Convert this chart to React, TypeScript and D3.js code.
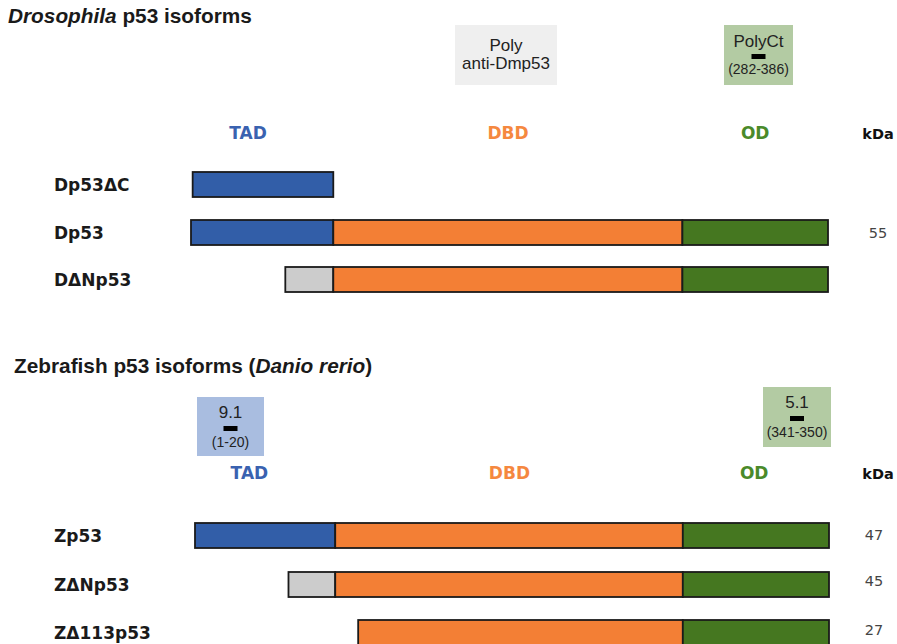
import React from "react";
import * as d3 from "d3";

// ---------- data ----------
const domainNames = ["TAD", "DBD", "OD"];
const domainLabelColors = ["#3a62b0", "#f5883f", "#4a8a2a"];
const segFill: Record<string, string> = {
  TAD: "#325ea8",
  DBD: "#f37f35",
  OD: "#457720",
  N: "#cccccc",
};

// Drosophila (residue-like units, full length 385)
const dmelLength = 385;
const dmelNames = ["Dp53ΔC", "Dp53", "DΔNp53"];
const dmelKda = ["", "55", ""];
const dmelSegs: [string, number, number][][] = [
  [["TAD", 1, 86]],
  [["TAD", 0, 86], ["DBD", 86, 297], ["OD", 297, 385]],
  [["N", 57, 86], ["DBD", 86, 297], ["OD", 297, 385]],
];
const dmelDomainCenters = [34.5, 191.6, 341];

// Zebrafish (full length 373)
const zfLength = 373;
const zfNames = ["Zp53", "ZΔNp53", "ZΔ113p53"];
const zfKda = ["47", "45", "27"];
const zfSegs: [string, number, number][][] = [
  [["TAD", 0, 82.5], ["DBD", 82.5, 287], ["OD", 287, 373]],
  [["N", 55, 82.5], ["DBD", 82.5, 287], ["OD", 287, 373]],
  [["DBD", 96, 287], ["OD", 287, 373]],
];
const zfDomainCenters = [32, 185, 329];

const SANS = "'Liberation Sans', Arial, sans-serif";
const DJ = "'DejaVu Sans', Verdana, sans-serif";

type PanelProps = {
  names: string[];
  kda: string[];
  segs: [string, number, number][][];
  length: number;
  x0: number;
  x1: number;
  rowTop: number[];
  kdaY: number[];
  kdaX: number;
  labelY: number;
  centers: number[];
};

function Panel(p: PanelProps) {
  const x = d3.scaleLinear().domain([0, p.length]).range([p.x0, p.x1]);
  const barH = 25;
  return (
    <g>
      {domainNames.map((d, i) => (
        <text
          key={d}
          x={x(p.centers[i])}
          y={p.labelY}
          textAnchor="middle"
          fontFamily={DJ}
          fontWeight="bold"
          fontSize={17}
          fill={domainLabelColors[i]}
        >
          {d}
        </text>
      ))}
      <text x={878} y={p.labelY} textAnchor="middle" fontFamily={DJ} fontWeight="bold" fontSize={14.5} fill="#111">
        kDa
      </text>
      {p.names.map((n, i) => {
        const y = p.rowTop[i];
        const segs = p.segs[i];
        return (
          <g key={n}>
            <text x={54} y={y + 18.5} fontFamily={DJ} fontWeight="bold" fontSize={17} fill="#1a1a1a">
              {n}
            </text>
            {segs.map(([d, s, e], j) => (
              <rect
                key={j}
                x={x(s)}
                y={y}
                width={x(e) - x(s)}
                height={barH}
                fill={segFill[d]}
                stroke="#1a1a1a"
                strokeWidth={1.8}
              />
            ))}
            {p.kda[i] && (
              <text x={p.kdaX} y={p.kdaY[i]} textAnchor="middle" fontFamily={DJ} fontSize={14.5} fill="#444">
                {p.kda[i]}
              </text>
            )}
          </g>
        );
      })}
    </g>
  );
}

function AbBox(props: {
  x: number;
  y: number;
  w: number;
  h: number;
  fill: string;
  lines: { t: string; dy: number; size: number }[];
  bar?: { dy: number };
}) {
  const cx = props.x + props.w / 2;
  return (
    <g>
      <rect x={props.x} y={props.y} width={props.w} height={props.h} fill={props.fill} />
      {props.lines.map((l, i) => (
        <text key={i} x={cx} y={props.y + l.dy} textAnchor="middle" fontFamily={SANS} fontSize={l.size} fill="#222">
          {l.t}
        </text>
      ))}
      {props.bar && <rect x={cx - 7} y={props.y + props.bar.dy} width={14} height={5} fill="#000" />}
    </g>
  );
}

export default function App() {
  return (
    <svg
      width={897}
      height={644}
      style={{ position: "absolute", left: 0, top: 0, display: "block", background: "#fff" }}
    >
      <text x={8} y={23} fontFamily={SANS} fontWeight="bold" fontSize={20.8} fill="#1a1a1a">
        <tspan fontStyle="italic">Drosophila</tspan> p53 isoforms
      </text>
      <AbBox
        x={455}
        y={25}
        w={102}
        h={60}
        fill="#efefef"
        lines={[
          { t: "Poly", dy: 26, size: 17 },
          { t: "anti-Dmp53", dy: 44, size: 17 },
        ]}
      />
      <AbBox
        x={724}
        y={25}
        w={69}
        h={60}
        fill="#b3cba3"
        lines={[
          { t: "PolyCt", dy: 22, size: 17 },
          { t: "(282-386)", dy: 49, size: 14 },
        ]}
        bar={{ dy: 29 }}
      />
      <Panel
        names={dmelNames}
        kda={dmelKda}
        segs={dmelSegs}
        length={dmelLength}
        x0={191}
        x1={828}
        rowTop={[172, 220, 267]}
        kdaY={[0, 238, 0]}
        kdaX={878}
        labelY={139}
        centers={dmelDomainCenters}
      />

      <text x={14} y={373} fontFamily={SANS} fontWeight="bold" fontSize={20.8} fill="#1a1a1a">
        Zebrafish p53 isoforms (<tspan fontStyle="italic">Danio rerio</tspan>)
      </text>
      <AbBox
        x={197}
        y={397}
        w={67}
        h={59}
        fill="#a9bde0"
        lines={[
          { t: "9.1", dy: 21, size: 17 },
          { t: "(1-20)", dy: 50, size: 14 },
        ]}
        bar={{ dy: 29 }}
      />
      <AbBox
        x={763}
        y={387}
        w={68}
        h={60}
        fill="#b3cba3"
        lines={[
          { t: "5.1", dy: 21, size: 17 },
          { t: "(341-350)", dy: 50, size: 14 },
        ]}
        bar={{ dy: 29 }}
      />
      <Panel
        names={zfNames}
        kda={zfKda}
        segs={zfSegs}
        length={zfLength}
        x0={195}
        x1={829}
        rowTop={[523, 572, 620]}
        kdaY={[540, 586, 635]}
        kdaX={874}
        labelY={479}
        centers={zfDomainCenters}
      />
    </svg>
  );
}
